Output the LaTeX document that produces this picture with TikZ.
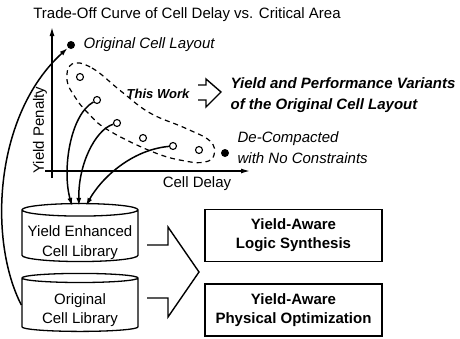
\documentclass[tikz,border=0pt]{standalone}
\usepackage{fontspec}
\setmainfont{Liberation Sans}
\usetikzlibrary{positioning,arrows.meta,shapes.geometric,calc}

\begin{document}
\begin{tikzpicture}[x=1pt, y=-1pt,
  font=\fontsize{15}{19}\selectfont,
  every node/.style={inner sep=0pt},
  line width=1.3pt,
  lib/.style={cylinder, shape border rotate=90, draw, aspect=0.12, align=center,
              minimum width=116pt, minimum height=58pt},
  libtext/.style={align=center, font=\fontsize{15}{19.5}\selectfont},
  taskbox/.style={draw, line width=1.4pt, minimum width=177pt, minimum height=52pt,
                  align=center, font=\fontsize{15}{19}\selectfont\bfseries},
  variant/.style={circle, draw, line width=1.1pt, minimum size=7pt},
  layout/.style={circle, fill, minimum size=8pt},
  feed/.style={-{Latex[length=8pt,width=5pt]}, line width=1.5pt},
  axis/.style={-{Latex[length=9pt,width=5pt]}, line width=1.4pt},
  hollow/.style={line width=1.4pt, line join=miter},
  note/.style={font=\fontsize{15}{21}\selectfont\itshape, align=left, anchor=west},
]
\useasboundingbox (0,0) rectangle (460,338);

% ---- Title ----
\node (title) at (187,15) {Trade-Off Curve of Cell Delay vs. Critical Area};

% ---- Axes ----
\coordinate (ybot) at (52,178);
\coordinate (ytop) at (52,27);
\coordinate (xleft) at (45,171);
\coordinate (xright) at (250,171);
\draw[axis] (ybot) -- (ytop);
\draw[axis] (xleft) -- (xright);
\node[rotate=90] (ylab) at (40,130) {Yield Penalty};
\node (xlab) at (197,184) {Cell Delay};

% ---- Layout points ----
\node[layout] (orig) at (71,45) {};
\node[layout] (decomp) at (225,153) {};
\node[variant] (v1) at (80,77) {};
\node[variant] (v2) at (97,100) {};
\node[variant] (v3) at (117,123) {};
\node[variant] (v4) at (143,138) {};
\node[variant] (v5) at (173,146) {};
\node[variant] (v6) at (199,150) {};

\node[note] (origlab) at (83,45) {Original Cell Layout};
\node[note] (decomplab) at (237,148) {De-Compacted\\with No Constraints};

% ---- This work ----
\draw[dashed, line width=1.2pt, dash pattern=on 5pt off 4pt]
  plot[smooth cycle, tension=0.7] coordinates {
    (72,64) (92,68) (122,92) (150,113) (185,128) (210,141) (214,155)
    (205,162) (185,161) (153,152) (108,130) (88,113) (75,97) (67,80)};
\node[font=\fontsize{13}{16}\selectfont\bfseries\itshape] (work) at (158,94) {This Work};
\draw[hollow] (198,85) -- (206,85) -- (206,79) -- (221,92) -- (206,107) -- (206,100) -- (198,100);
\node[note, font=\fontsize{15}{21}\selectfont\bfseries\itshape] (varlab) at (230,95)
  {Yield and Performance Variants\\of the Original Cell Layout};

% ---- Libraries ----
\node[lib] (lib1) at (80,236) {\phantom{Yield Enhanced}\\\phantom{Cell Library}};
\node[libtext] (lib1txt) at ([yshift=-6.5pt]lib1.center) {Yield Enhanced\\Cell Library};
\node[lib] (lib2) at (80,305) {\phantom{Original}\\\phantom{Cell Library}};
\node[libtext] (lib2txt) at ([yshift=-5pt]lib2.center) {Original\\Cell Library};

% ---- Tasks ----
\node[taskbox] (logic) at (293.5,235.5) {Yield-Aware\\Logic Synthesis};
\node[taskbox] (phys) at (293.5,310) {Yield-Aware\\Physical Optimization};

% ---- Flows ----
\draw[feed] (lib2.west) .. controls (-12,240) and (-6,115) .. (orig);
\draw[feed] (v2) .. controls (70,115) and (62,170) .. ([xshift=-8pt,yshift=-3pt]lib1.north);
\draw[feed] (v3) .. controls (95,130) and (78,165) .. ([xshift=-1pt,yshift=-3pt]lib1.north);
\draw[feed] (v5) .. controls (130,150) and (100,180) .. ([xshift=6pt,yshift=-3pt]lib1.north);

\draw[hollow] (147,245) -- (168,245) -- (168,227) -- (199,272) -- (168,317) -- (168,298) -- (147,298);

\end{tikzpicture}
\end{document}
